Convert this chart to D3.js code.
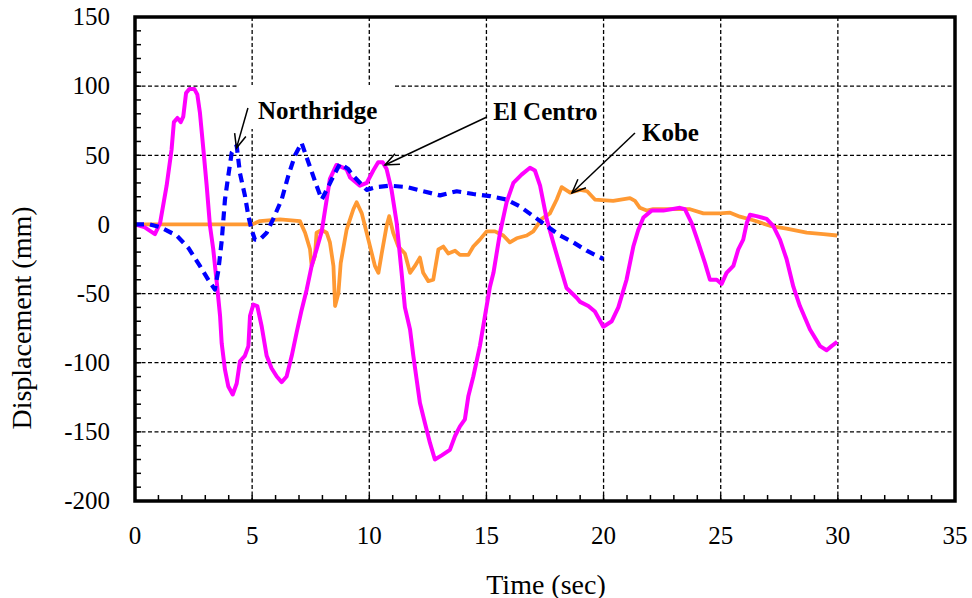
<!DOCTYPE html>
<html>
<head>
<meta charset="utf-8">
<script src="https://cdn.jsdelivr.net/npm/d3@7/dist/d3.min.js"></script>
<style>
  html, body { margin: 0; padding: 0; background: #fff; }
  svg { display: block; }
  text { font-family: "Liberation Serif", "Times New Roman", serif; fill: #000; }
</style>
</head>
<body>
<svg id="chart" width="972" height="598"></svg>
<script>
// ---- Data ----
const xTicks = [0, 5, 10, 15, 20, 25, 30, 35];
const yTicks = [-200, -150, -100, -50, 0, 50, 100, 150];

const elCentroT = [0,0.4,0.85,1.07,1.35,1.56,1.66,1.81,1.95,2.06,2.18,2.32,2.53,2.66,2.77,2.92,3.06,3.2,3.34,3.49,3.63,3.7,3.84,3.98,4.17,4.34,4.48,4.69,4.84,4.91,5.05,5.22,5.41,5.62,5.83,6.05,6.26,6.47,6.69,6.9,7.11,7.33,7.54,7.75,7.97,8.32,8.6,8.75,9.03,9.18,9.6,9.89,10.17,10.38,10.57,10.74,10.95,11.17,11.38,11.52,11.74,11.88,12.02,12.16,12.38,12.59,12.8,13.09,13.44,13.66,13.87,14.08,14.23,14.44,14.72,14.94,15.15,15.3,15.58,15.86,16.15,16.5,16.86,17.07,17.29,17.57,17.85,18.14,18.42,18.85,19.0,19.35,19.63,19.99,20.35,20.63,20.98,21.27,21.48,21.7,22.05,22.55,23.26,23.47,23.76,24.04,24.33,24.54,24.83,25.04,25.25,25.54,25.75,25.96,26.11,26.25,26.53,26.96,27.24,27.53,27.81,28.1,28.38,28.81,29.24,29.52,29.73,29.97];
const elCentroD = [0,-2,-7,1,28,54,74,77,74,78,95,98,98,94,81,54,28,-1,-18,-42,-66,-86,-105,-117,-123,-115,-99,-95,-88,-66,-58,-59,-74,-95,-104,-110,-114,-110,-95,-78,-62,-47,-30,-18,-5,33,43,42,40,34,28,30,39,45,45,40,25,1,-35,-60,-76,-95,-112,-129,-144,-158,-170,-167,-163,-153,-146,-141,-124,-110,-88,-66,-45,-35,-6,16,30,36,41,39,28,4,-13,-30,-46,-53,-56,-59,-63,-74,-70,-60,-40,-16,-4,5,10,10,12,11,1,-13,-28,-40,-40,-43,-35,-30,-18,-11,1,7,6,4,-1,-11,-25,-45,-59,-76,-88,-91,-88,-85];

const kobeT = [0,5.0,5.33,6.19,7.04,7.26,7.47,7.54,7.68,7.75,7.97,8.18,8.32,8.47,8.54,8.68,8.78,9.03,9.32,9.46,9.68,9.96,10.24,10.39,10.53,10.74,10.85,11.02,11.24,11.52,11.74,11.95,12.16,12.3,12.52,12.73,12.95,13.16,13.37,13.66,13.87,14.23,14.44,14.72,15.01,15.36,15.72,16.0,16.29,16.72,17.0,17.36,17.71,18.0,18.21,18.57,19.0,19.3,19.63,20.41,21.13,21.34,21.55,21.84,22.12,23.69,24.26,24.97,25.4,25.82,26.39,27.1,27.81,28.67,29.38,29.97];
const kobeD = [0,0,2.4,3.6,2.4,-6,-18,-30,-23,-6,-4,-6,-13,-30,-59,-50,-28,-4,11,16,8,-11,-30,-35,-21,-1,6,-6,-16,-21,-35,-30,-24,-35,-41,-40,-18,-16,-21,-19,-22,-22,-16,-11,-5,-5,-8,-13,-10,-8,-5,4,8,18,27,23,25,24,18,17,19,17,12,10,11,11,8,8,8.5,5.6,3,-1,-3,-6,-7,-8];

const northridgeT = [0,0.64,1.07,1.78,2.28,2.77,3.2,3.41,3.56,3.7,3.84,3.98,4.13,4.34,4.48,4.69,4.84,4.98,5.12,5.33,5.62,5.9,6.26,6.54,6.83,7.11,7.4,7.75,7.97,8.18,8.47,8.75,9.1,9.32,9.89,10.31,10.88,11.6,12.3,13.02,13.73,14.44,15.15,15.86,16.43,17.0,17.57,18.14,18.71,19.28,19.99];
const northridgeD = [0,0,-2,-8,-17,-30,-42,-47,-33,-12,18,35,52,57,37,21,6,-4,-11,-11,-6,4,18,35,50,59,45,28,18,25,35,44,40,35,25,27,28,27,24,21,24,22,20.5,18,13,6,-1,-8,-13,-19,-25];

const seriesNames = ["Northridge", "El Centro", "Kobe"];
// annotation: label anchor and arrow tail/tip in data units
const labelPos = [[5.25, 76], [15.29, 75.5], [21.64, 60.5]];
const arrowTail = [[4.82, 84.2], [15.02, 77.7], [21.34, 66.1]];
const arrowTip  = [[4.33, 55.2], [10.67, 43], [18.65, 22.7]];

(function () {
// ---- Layout ----
const svg = d3.select("#chart");
const pL = 135, pR = 955, pT = 17, pB = 501;
const x = d3.scaleLinear().domain([0, 35]).range([pL, pR]);
const y = d3.scaleLinear().domain([-200, 150]).range([pB, pT]);

svg.append("rect").attr("width", 972).attr("height", 598).attr("fill", "#fff");

// gridlines
const grid = svg.append("g").attr("stroke", "#000").attr("stroke-width", 1.3).attr("stroke-dasharray", "4,2.5");
xTicks.filter(v => v > 0 && v < 35).forEach(v => {
  grid.append("line").attr("x1", x(v)).attr("x2", x(v)).attr("y1", pT).attr("y2", pB);
});
yTicks.filter(v => v > -200 && v < 150).forEach(v => {
  grid.append("line").attr("x1", pL).attr("x2", pR).attr("y1", y(v)).attr("y2", y(v));
});

// white box behind Northridge label
svg.append("rect").attr("x", 238).attr("y", 85).attr("width", 157).attr("height", 44).attr("fill", "#fff");

// minor ticks (inward)
const tk = svg.append("g").attr("stroke", "#000").attr("stroke-width", 1.5);
d3.range(-200, 151, 10).forEach(v => {
  tk.append("line").attr("x1", pL).attr("x2", pL + 6).attr("y1", y(v)).attr("y2", y(v));
});
d3.range(0, 36, 1).forEach(v => {
  tk.append("line").attr("x1", x(v)).attr("x2", x(v)).attr("y1", pB).attr("y2", pB - 6);
});

// data lines
const line = d3.line().x(d => x(d[0])).y(d => y(d[1]));
const zip = (a, b) => a.map((v, i) => [v, b[i]]);

svg.append("path").datum(zip(kobeT, kobeD))
  .attr("d", line).attr("fill", "none").attr("stroke", "#FF9933").attr("stroke-width", 3.8)
  .attr("stroke-linejoin", "round");
svg.append("path").datum(zip(elCentroT, elCentroD))
  .attr("d", line).attr("fill", "none").attr("stroke", "#FF00FF").attr("stroke-width", 4)
  .attr("stroke-linejoin", "round");
svg.append("path").datum(zip(northridgeT, northridgeD))
  .attr("d", line).attr("fill", "none").attr("stroke", "#0000FF").attr("stroke-width", 4.2)
  .attr("stroke-dasharray", "9,6").attr("stroke-linejoin", "round");

// frame
svg.append("rect").attr("x", pL).attr("y", pT).attr("width", pR - pL).attr("height", pB - pT)
  .attr("fill", "none").attr("stroke", "#000").attr("stroke-width", 3.5);

// tick labels
svg.append("g").selectAll("text").data(yTicks).join("text")
  .attr("x", 110).attr("y", d => y(d)).attr("dy", "0.33em")
  .attr("text-anchor", "end").attr("font-size", 25).text(d => d);
svg.append("g").selectAll("text").data(xTicks).join("text")
  .attr("x", d => x(d)).attr("y", 544)
  .attr("text-anchor", "middle").attr("font-size", 25).text(d => d);

// axis titles
svg.append("text").attr("x", 546).attr("y", 593.5).attr("text-anchor", "middle")
  .attr("font-size", 28).text("Time (sec)");
svg.append("text").attr("transform", "translate(31,318) rotate(-90)").attr("text-anchor", "middle")
  .attr("font-size", 28).text("Displacement (mm)");

// annotations
const ann = svg.append("g");
seriesNames.forEach((name, i) => {
  ann.append("text").attr("x", x(labelPos[i][0])).attr("y", y(labelPos[i][1]))
    .attr("font-size", 25).attr("font-weight", "bold").text(name);
  const x1 = x(arrowTail[i][0]), y1 = y(arrowTail[i][1]);
  const x2 = x(arrowTip[i][0]), y2 = y(arrowTip[i][1]);
  ann.append("line").attr("x1", x1).attr("y1", y1).attr("x2", x2).attr("y2", y2)
    .attr("stroke", "#000").attr("stroke-width", 1.5);
  const ang = Math.atan2(y1 - y2, x1 - x2), L = 15, a = 0.4;
  const p = [[x2 + L * Math.cos(ang + a), y2 + L * Math.sin(ang + a)], [x2, y2],
             [x2 + L * Math.cos(ang - a), y2 + L * Math.sin(ang - a)]];
  ann.append("path").attr("d", d3.line()(p)).attr("fill", "none").attr("stroke", "#000").attr("stroke-width", 1.5);
});
})();
</script>
</body>
</html>
